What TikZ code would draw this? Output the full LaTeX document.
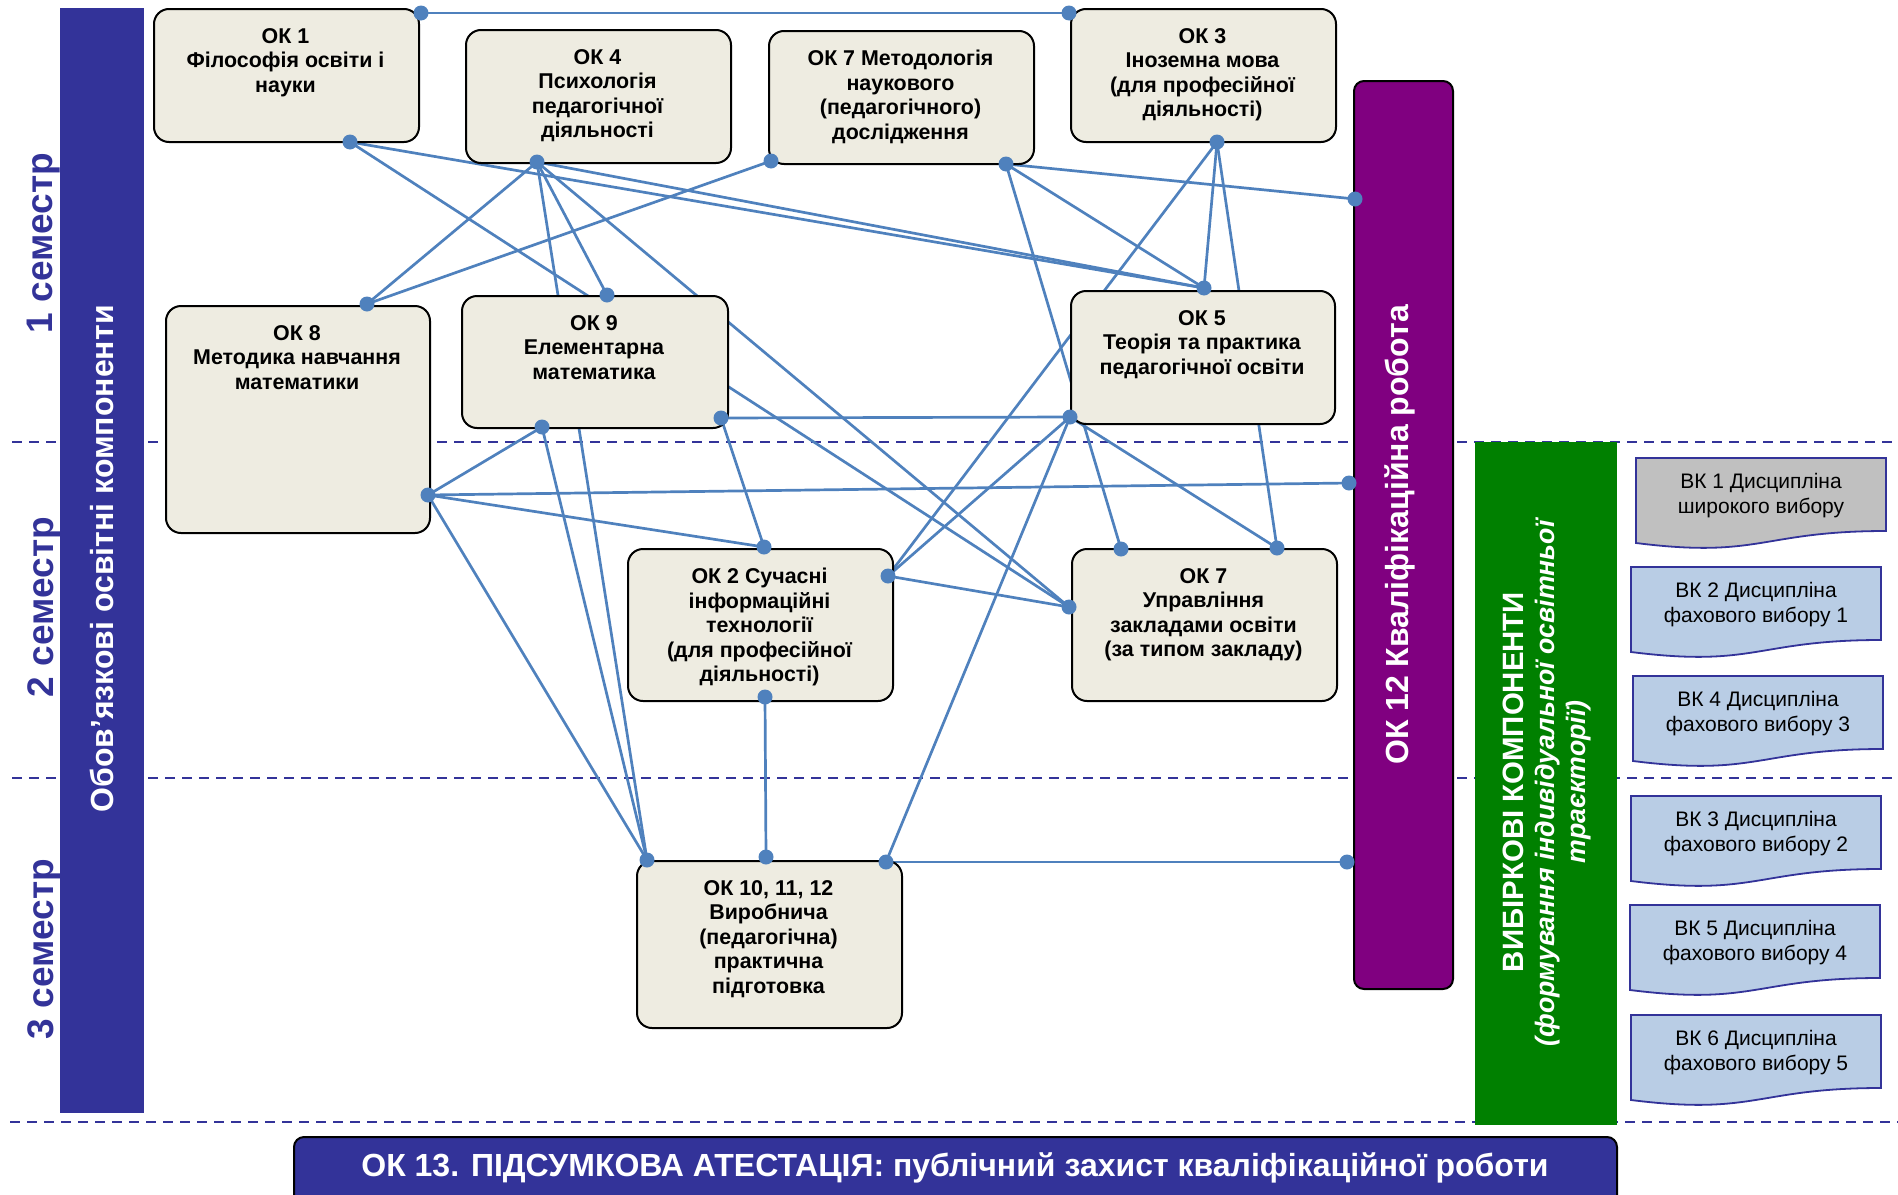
\documentclass[tikz,border=0pt]{standalone}
\usepackage{fontspec}
\setmainfont{Liberation Sans}
\usetikzlibrary{calc}
\definecolor{okfill}{HTML}{EEECE1}
\definecolor{navy}{HTML}{333399}
\definecolor{linkc}{HTML}{4F81BD}
\definecolor{ppl}{HTML}{800080}
\definecolor{grn}{HTML}{008000}
\definecolor{vkgray}{HTML}{C0C0C0}
\definecolor{vkblue}{HTML}{B9CDE5}
\pgfdeclarelayer{dashes}
\pgfdeclarelayer{links}
\pgfdeclarelayer{dots}
\pgfsetlayers{dashes,links,main,dots}
\tikzset{
  okbox/.style={draw=black, line width=2pt, fill=okfill, rounded corners=15pt, inner sep=0pt},
  oktext/.style={inner sep=0pt, align=center, font=\bfseries\fontsize{21.4}{24.5}\selectfont},
  link/.style={draw=linkc, line width=2.7pt},
  linkdot/.style={fill=linkc},
  semdash/.style={draw=navy, line width=2.5pt, dash pattern=on 10pt off 7pt},
  semlabel/.style={rotate=90, text=navy, inner sep=0pt, font=\bfseries\fontsize{37}{40}\selectfont},
  vkshape/.style={draw=navy, line width=1.8pt},
  vktext/.style={inner sep=0pt, align=center, font=\fontsize{21}{25}\selectfont},
  bar/.style={inner sep=0pt, anchor=north west},
}
\newcommand\okbox[6]{%
  \node[okbox, anchor=north west, minimum width=#4, minimum height=#5] (#1) at (#2,#3) {};
  \node[oktext, anchor=north] (#1t) at ({#2+#4/2},{#3+20}) {#6};}
\newcommand\vkbox[5]{%
  \path[vkshape, fill=#4] (#2,#3) -- ({#2+250},#3) -- ({#2+250},{#3+73})
    .. controls ({#2+125},{#3+73}) and ({#2+125},{#3+100.8}) .. (#2,{#3+85}) -- cycle;
  \node[vktext, anchor=north] (#1) at ({#2+125},{#3+15}) {#5};}
\begin{document}
\begin{tikzpicture}[x=1pt,y=-1pt]
\useasboundingbox (0,0) rectangle (1898,1194);

% semester separators
\begin{pgfonlayer}{dashes}
\coordinate (s1a) at (12,442); \coordinate (s1b) at (1898,442);
\coordinate (s2a) at (12,778); \coordinate (s2b) at (1898,778);
\coordinate (s3a) at (10,1122); \coordinate (s3b) at (1898,1122);
\draw[semdash] (s1a) -- (s1b);
\draw[semdash] (s2a) -- (s2b);
\draw[semdash] (s3a) -- (s3b);
\end{pgfonlayer}

% bars
\node[bar, fill=navy, minimum width=84, minimum height=1105] (oblig) at (60,8) {};
\node[rotate=90, text=white, inner sep=0pt, font=\bfseries\fontsize{32}{36}\selectfont] (obligt) at (102,559) {Обов’язкові освітні компоненти};

\node[semlabel] (sem1) at (44,243) {1 семестр};
\node[semlabel] (sem2) at (44,607) {2 семестр};
\node[semlabel] (sem3) at (44,949) {3 семестр};

\node[bar, fill=ppl, draw=black, line width=2pt, rounded corners=10pt, minimum width=99, minimum height=908] (ok12) at (1353,80) {};
\node[rotate=90, text=white, inner sep=0pt, font=\bfseries\fontsize{32}{36}\selectfont] (ok12t) at (1400,535) {ОК 12 Кваліфікаційна робота};

\node[bar, fill=grn, minimum width=142, minimum height=683] (vybir) at (1475,442) {};
\node[rotate=90, text=white, inner sep=0pt, align=center, font=\bfseries\fontsize{29.4}{31}\selectfont] (vybirt) at (1547,782)
  {ВИБІРКОВІ КОМПОНЕНТИ\\{\fontsize{26.7}{31}\selectfont\textit{(формування індивідуальної освітньої}}\\{\fontsize{26.7}{31}\selectfont\textit{траєкторії)}}};

\node[bar, fill=navy, draw=black, line width=2pt, rounded corners=10pt, minimum width=1323, minimum height=80] (ok13) at (293,1136) {};
\node[text=white, inner sep=0pt, font=\bfseries\fontsize{32}{36}\selectfont] (ok13t) at (955,1168) {ОК 13. ПІДСУМКОВА АТЕСТАЦІЯ: публічний захист кваліфікаційної роботи};

% mandatory components
\okbox{ok1}{153}{8}{265}{133}{ОК 1\\Філософія освіти і\\науки}
\okbox{ok4}{465}{29}{265}{133}{ОК 4\\Психологія\\педагогічної\\діяльності}
\okbox{ok7m}{768}{30}{265}{133}{ОК 7 Методологія\\наукового\\(педагогічного)\\дослідження}
\okbox{ok3}{1070}{8}{265}{133}{ОК 3\\Іноземна мова\\(для професійної\\діяльності)}
\okbox{ok8}{165}{305}{264}{227}{ОК 8\\Методика навчання\\математики}
\okbox{ok9}{461}{295}{266}{132}{ОК 9\\Елементарна\\математика}
\okbox{ok5}{1070}{290}{264}{133}{ОК 5\\Теорія та практика\\педагогічної освіти}
\okbox{ok2}{627}{548}{265}{152}{ОК 2 Сучасні\\інформаційні\\технології\\(для професійної\\діяльності)}
\okbox{ok7u}{1071}{548}{265}{152}{ОК 7\\Управління\\закладами освіти\\(за типом закладу)}
\okbox{ok10}{636}{860}{265}{167}{ОК 10, 11, 12\\Виробнича\\(педагогічна)\\практична\\підготовка}

% elective components
\vkbox{vk1}{1636}{458}{vkgray}{ВК 1 Дисципліна\\широкого вибору}
\vkbox{vk2}{1631}{567}{vkblue}{ВК 2 Дисципліна\\фахового вибору 1}
\vkbox{vk4}{1633}{676}{vkblue}{ВК 4 Дисципліна\\фахового вибору 3}
\vkbox{vk3}{1631}{796}{vkblue}{ВК 3 Дисципліна\\фахового вибору 2}
\vkbox{vk5}{1630}{905}{vkblue}{ВК 5 Дисципліна\\фахового вибору 4}
\vkbox{vk6}{1631}{1015}{vkblue}{ВК 6 Дисципліна\\фахового вибору 5}

% connection points
\coordinate (ok1tr) at (421,13);
\coordinate (ok3tl) at (1069,13);
\coordinate (ok1b) at (350,142);
\coordinate (ok4b) at (537,162);
\coordinate (ok7ml) at (771,161);
\coordinate (ok7mb) at (1006,164);
\coordinate (ok3b) at (1217,142);
\coordinate (ok8t) at (367,304);
\coordinate (ok9top) at (607,295);
\coordinate (ok5top) at (1204,288);
\coordinate (p1) at (1355,199);
\coordinate (ok9b) at (542,427);
\coordinate (ok9r) at (721,418);
\coordinate (ok5b) at (1070,417);
\coordinate (ok8r) at (428,495);
\coordinate (p2) at (1349,483);
\coordinate (ok2top) at (764,547);
\coordinate (ok7ut) at (1121,549);
\coordinate (ok7ur) at (1277,548);
\coordinate (ok2r) at (888,576);
\coordinate (ok7ul) at (1069,607);
\coordinate (ok2b) at (765,697);
\coordinate (ok10l) at (647,860);
\coordinate (ok10top) at (766,857);
\coordinate (ok10r) at (886,862);
\coordinate (p3) at (1347,862);

\begin{pgfonlayer}{links}
\draw[link] (ok1tr) -- (ok3tl);
\draw[link] (ok1b) -- (ok5top);
\draw[link] (ok1b) -- (ok7ul);
\draw[link] (ok4b) -- (ok8t);
\draw[link] (ok4b) -- (ok9top);
\draw[link] (ok4b) -- (ok10l);
\draw[link] (ok4b) -- (ok7ul);
\draw[link] (ok4b) -- (ok5top);
\draw[link] (ok7ml) -- (ok8t);
\draw[link] (ok7mb) -- (p1);
\draw[link] (ok7mb) -- (ok5top);
\draw[link] (ok7mb) -- (ok7ut);
\draw[link] (ok3b) -- (ok5top);
\draw[link] (ok3b) -- (ok7ur);
\draw[link] (ok3b) -- (ok2r);
\draw[link] (ok5b) -- (ok9r);
\draw[link] (ok5b) -- (ok2r);
\draw[link] (ok5b) -- (ok7ur);
\draw[link] (ok5b) -- (ok10r);
\draw[link] (ok9b) -- (ok8r);
\draw[link] (ok9b) -- (ok10l);
\draw[link] (ok9r) -- (ok2top);
\draw[link] (ok8r) -- (p2);
\draw[link] (ok8r) -- (ok2top);
\draw[link] (ok8r) -- (ok10l);
\draw[link] (ok2r) -- (ok7ul);
\draw[link] (ok2b) -- (ok10top);
\draw[link] (ok10r) -- (p3);
\end{pgfonlayer}

\begin{pgfonlayer}{dots}
\foreach \c in {ok1tr,ok3tl,ok1b,ok4b,ok7ml,ok7mb,ok3b,ok8t,ok9top,ok5top,p1,ok9b,ok9r,ok5b,ok8r,p2,ok2top,ok7ut,ok7ur,ok2r,ok7ul,ok2b,ok10l,ok10top,ok10r,p3}
  \fill[linkdot] (\c) circle (7.5);
\end{pgfonlayer}
\end{tikzpicture}
\end{document}
